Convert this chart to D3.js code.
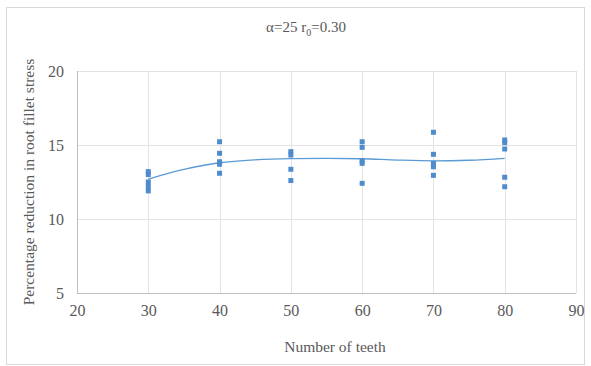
<!DOCTYPE html>
<html><head><meta charset="utf-8">
<script src="https://cdn.jsdelivr.net/npm/d3@7"></script>
<style>body{margin:0;background:#fff}svg{display:block}text{font-family:"Liberation Serif","Times New Roman",serif}</style>
</head><body><svg id="c" width="591" height="366"></svg>
<script>
const teeth = [30, 40, 50, 60, 70, 80];
const reductions = [
  [13.2, 13.0, 12.5, 12.2, 11.9],
  [15.22, 14.44, 13.87, 13.70, 13.09],
  [14.55, 14.32, 13.36, 12.6],
  [15.22, 14.84, 13.94, 13.76, 12.41],
  [15.86, 14.37, 13.76, 13.53, 12.95],
  [15.34, 15.16, 14.73, 12.82, 12.18]
];
const trendX = [30, 35, 40, 45, 50, 55, 60, 65, 70, 75, 80];
const trendY = [12.7, 13.35, 13.8, 14.0, 14.08, 14.1, 14.07, 13.98, 13.93, 13.97, 14.1];
const xTicks = [20, 30, 40, 50, 60, 70, 80, 90];
const yTicks = [5, 10, 15, 20];

const svg = d3.select("#c");
svg.append("rect").attr("x",6.5).attr("y",7.5).attr("width",578).attr("height",357)
  .attr("fill","#fff").attr("stroke","#d9d9d9");
const x = d3.scaleLinear().domain([20,90]).range([77,576]);
const y = d3.scaleLinear().domain([5,20]).range([293,71]);

const g = svg.append("g");
g.selectAll(".hg").data(yTicks).join("line")
  .attr("x1",x(20)).attr("x2",x(90)).attr("y1",d=>Math.round(y(d))+0.5).attr("y2",d=>Math.round(y(d))+0.5)
  .attr("stroke",d=>d===5?"#bfbfbf":"#e3e3e3");
g.selectAll(".vg").data(xTicks).join("line")
  .attr("y1",y(5)).attr("y2",y(20)).attr("x1",d=>Math.round(x(d))+0.5).attr("x2",d=>Math.round(x(d))+0.5)
  .attr("stroke",d=>d===20?"#bfbfbf":"#e3e3e3");

const yAxis = svg.append("g").attr("transform",`translate(${x(20)},0)`)
  .call(d3.axisLeft(y).tickValues(yTicks).tickSize(0).tickPadding(13));
yAxis.attr("font-family","Liberation Serif").attr("font-size",16);
yAxis.select(".domain").remove();
yAxis.selectAll("text").attr("fill","#595959");
const xAxis = svg.append("g").attr("transform",`translate(0,${y(5)})`)
  .call(d3.axisBottom(x).tickValues(xTicks).tickSize(0).tickPadding(12));
xAxis.attr("font-family","Liberation Serif").attr("font-size",16);
xAxis.select(".domain").remove();
xAxis.selectAll("text").attr("fill","#595959");

const line = d3.line().x((d,i)=>x(trendX[i])).y(d=>y(d)).curve(d3.curveMonotoneX);
svg.append("path").attr("d",line(trendY)).attr("fill","none").attr("stroke","#5b9bd5").attr("stroke-width",1.3);

const pts = [];
teeth.forEach((t,i)=>reductions[i].forEach(v=>pts.push([t,v])));
svg.selectAll(".pt").data(pts).join("rect")
  .attr("x",d=>x(d[0])-2.5).attr("y",d=>y(d[1])-2.5).attr("width",5).attr("height",5)
  .attr("fill","#4f8ccc");

const title = svg.append("text").attr("x",306).attr("y",32).attr("text-anchor","middle")
  .attr("fill","#595959").style("font-size","15px");
title.append("tspan").text("α=25 r");
title.append("tspan").text("0").attr("dy",4).style("font-size","10px");
title.append("tspan").text("=0.30").attr("dy",-4);

svg.append("text").attr("x",335).attr("y",352).attr("text-anchor","middle").attr("fill","#595959")
  .style("font-size","15.5px").text("Number of teeth");
svg.append("text").attr("transform","translate(34,182) rotate(-90)").attr("text-anchor","middle")
  .attr("fill","#595959").style("font-size","15.5px").text("Percentage reduction in root fillet  stress");
</script></body></html>
